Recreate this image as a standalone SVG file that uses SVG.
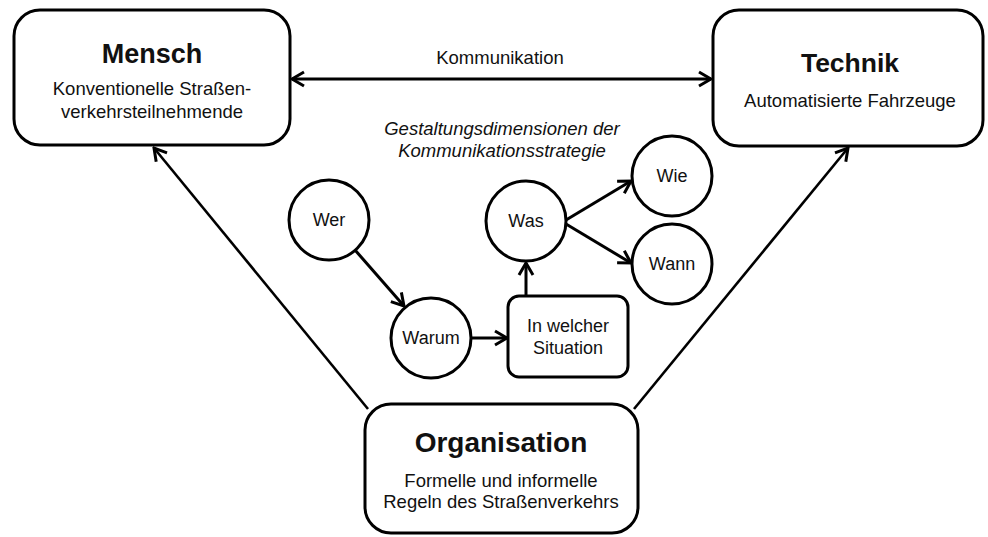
<svg xmlns="http://www.w3.org/2000/svg" width="988" height="537" viewBox="0 0 988 537">
<defs>
<style>
.box{fill:#fff;stroke:#000;stroke-width:3}
.circ{fill:#fff;stroke:#000;stroke-width:3}
.con{fill:none;stroke:#000;stroke-width:3}
.thin{fill:none;stroke:#000;stroke-width:2.6}
text{font-family:"Liberation Sans",Arial,sans-serif;fill:#111;text-anchor:middle}
.title{font-weight:bold}
.sub{font-size:18.5px}
.lbl{font-size:18px}
.it{font-size:18.5px;font-style:italic}
</style>
<marker id="arr" viewBox="-2 -9 16 18" refX="12" refY="0" markerWidth="16" markerHeight="18" markerUnits="userSpaceOnUse" orient="auto-start-reverse">
<path d="M0,-7 L12,0 L0,7" fill="none" stroke="#000" stroke-width="3" stroke-linejoin="miter"/>
</marker>
</defs>
<rect width="988" height="537" fill="#fff"/>
<g id="connectors">
<line class="con" x1="292" y1="79" x2="711" y2="79" marker-start="url(#arr)" marker-end="url(#arr)"/>
<line class="thin" x1="368" y1="409" x2="154" y2="148" marker-end="url(#arr)"/>
<line class="thin" x1="634" y1="409" x2="848" y2="148" marker-end="url(#arr)"/>
<line class="con" x1="355" y1="250" x2="404" y2="306" marker-end="url(#arr)"/>
<line class="con" x1="472" y1="338" x2="507" y2="338" marker-end="url(#arr)"/>
<line class="con" x1="526" y1="296" x2="526" y2="263" marker-end="url(#arr)"/>
<line class="con" x1="566" y1="220" x2="631" y2="181" marker-end="url(#arr)"/>
<line class="con" x1="566" y1="224" x2="631" y2="263" marker-end="url(#arr)"/>
</g>
<g id="mensch">
<rect class="box" x="14" y="10" width="276" height="135" rx="26"/>
<text class="title" x="152" y="63" font-size="27">Mensch</text>
<text class="sub" x="152" y="95">Konventionelle Straßen-</text>
<text class="sub" x="152" y="118">verkehrsteilnehmende</text>
</g>
<g id="technik">
<rect class="box" x="713" y="10" width="270" height="136" rx="26"/>
<text class="title" x="850" y="72" font-size="26.5">Technik</text>
<text class="sub" x="850" y="107">Automatisierte Fahrzeuge</text>
</g>
<g id="organisation">
<rect class="box" x="365" y="404" width="273" height="129" rx="26"/>
<text class="title" x="501" y="452" font-size="28">Organisation</text>
<text class="sub" x="501" y="487">Formelle und informelle</text>
<text class="sub" x="501" y="508">Regeln des Straßenverkehrs</text>
</g>
<g id="kommunikation-label">
<text class="sub" x="500" y="64">Kommunikation</text>
</g>
<g id="gestaltung-label">
<text class="it" x="502" y="135">Gestaltungsdimensionen der</text>
<text class="it" x="502" y="157">Kommunikationsstrategie</text>
</g>
<g id="wer">
<circle class="circ" cx="329" cy="220" r="40"/>
<text class="lbl" x="329" y="226">Wer</text>
</g>
<g id="warum">
<circle class="circ" cx="431" cy="338" r="40"/>
<text class="lbl" x="431" y="344">Warum</text>
</g>
<g id="situation">
<rect class="box" x="508" y="296" width="120" height="81" rx="11"/>
<text class="lbl" x="568" y="332">In welcher</text>
<text class="lbl" x="568" y="354">Situation</text>
</g>
<g id="was">
<circle class="circ" cx="526" cy="221" r="40"/>
<text class="lbl" x="526" y="227">Was</text>
</g>
<g id="wie">
<circle class="circ" cx="672" cy="176" r="40"/>
<text class="lbl" x="672" y="182">Wie</text>
</g>
<g id="wann">
<circle class="circ" cx="672" cy="264" r="40"/>
<text class="lbl" x="672" y="270">Wann</text>
</g>
</svg>
